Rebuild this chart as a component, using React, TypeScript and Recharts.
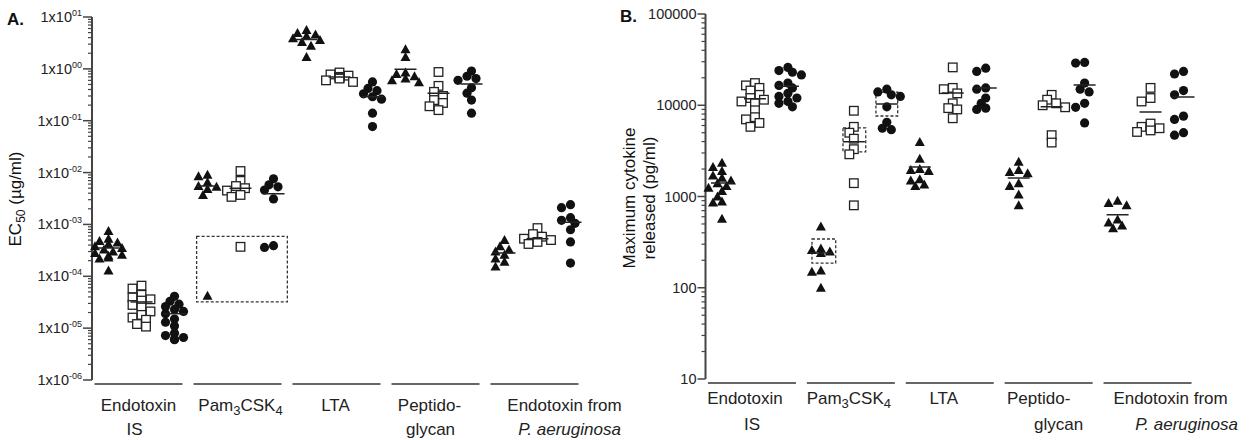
import React from "react"
import { ScatterChart, Scatter, XAxis, YAxis, ReferenceArea } from "recharts"

// group order on both panels; each group has 3 columns: triangle, open square, filled circle
const groupLabels = [["Endotoxin", "IS"], ["Pam3CSK4"], ["LTA"], ["Peptido-", "glycan"], ["Endotoxin from", "P. aeruginosa"]]

// A. EC50 (µg/ml)
const ec50Triangles = [
  [7.5e-4, 5.3e-4, 4.8e-4, 4.5e-4, 4.2e-4, 3.8e-4, 3.5e-4, 3.3e-4, 3.0e-4, 2.8e-4, 2.6e-4, 2.5e-4, 2.3e-4, 2.2e-4, 1.3e-4],
  [9.1e-3, 8.5e-3, 6.5e-3, 5.5e-3, 5.3e-3, 4.8e-3, 3.7e-3, 4.2e-5],
  [5.6, 4.9, 4.6, 4.3, 3.9, 3.6, 3.3, 2.8, 1.7],
  [2.4, 1.7, 0.85, 0.8, 0.72, 0.65, 0.6, 0.55],
  [5.0e-4, 3.8e-4, 3.3e-4, 3.0e-4, 2.6e-4, 2.2e-4, 1.9e-4, 1.55e-4],
]
const ec50Squares = [
  [6.6e-5, 5.8e-5, 4.4e-5, 3.9e-5, 3.6e-5, 3.4e-5, 2.8e-5, 2.5e-5, 2.1e-5, 1.8e-5, 1.6e-5, 1.45e-5, 1.2e-5, 1.07e-5],
  [1.07e-2, 6.9e-3, 5.5e-3, 5.0e-3, 4.5e-3, 3.7e-3, 3.4e-3, 3.7e-4],
  [0.85, 0.78, 0.74, 0.7, 0.68, 0.65, 0.6, 0.56],
  [0.87, 0.47, 0.36, 0.3, 0.25, 0.22, 0.19, 0.16],
  [8.5e-4, 6.5e-4, 5.8e-4, 5.3e-4, 5.0e-4, 4.6e-4, 4.2e-4],
]
const ec50Circles = [
  [4.1e-5, 3.3e-5, 2.9e-5, 2.6e-5, 2.3e-5, 2.1e-5, 1.9e-5, 1.5e-5, 1.3e-5, 1.1e-5, 8e-6, 7.2e-6, 6.6e-6, 6.2e-6, 6.0e-6],
  [7.6e-3, 5.8e-3, 5.3e-3, 4.6e-3, 3.1e-3, 3.9e-4, 3.6e-4],
  [0.56, 0.42, 0.38, 0.33, 0.29, 0.26, 0.14, 0.077],
  [0.91, 0.72, 0.65, 0.6, 0.43, 0.34, 0.25, 0.14],
  [2.4e-3, 2.1e-3, 1.35e-3, 1.2e-3, 1.05e-3, 7.9e-4, 4.6e-4, 1.8e-4],
]
const ec50Means = [
  [3.5e-4, 5.5e-3, 3.7, 0.98, 2.8e-4],
  [3.2e-5, 5.0e-3, 0.7, 0.34, 5.3e-4],
  [1.9e-5, 3.9e-3, 0.29, 0.51, 1.1e-3],
]
const ec50Ticks = [1e-6, 1e-5, 1e-4, 1e-3, 1e-2, 1e-1, 1, 10]
const ec50Boxes = [{ x1: 2.67, x2: 5.42, y1: 3.2e-5, y2: 5.9e-4 }]

// B. Maximum cytokine released (pg/ml)
const cytoTriangles = [
  [2350, 2100, 1900, 1700, 1600, 1500, 1400, 1300, 1250, 1150, 1000, 880, 860, 570],
  [470, 270, 260, 250, 240, 155, 150, 100],
  [3950, 2600, 2000, 1950, 1900, 1550, 1500, 1350, 1300],
  [2400, 1950, 1850, 1800, 1400, 1300, 1050, 800],
  [900, 850, 800, 560, 520, 480, 450],
]
const cytoSquares = [
  [17500, 16500, 15500, 14500, 13000, 12000, 11500, 11000, 10500, 8800, 7400, 7000, 6400, 5800],
  [8700, 5800, 5000, 4300, 3300, 2900, 1400, 800],
  [26000, 15500, 15000, 13500, 10500, 9300, 9000, 7200],
  [13000, 11500, 10500, 10000, 9500, 4700, 3900],
  [15500, 12000, 11000, 6300, 5800, 5600, 5300, 5100],
]
const cytoCircles = [
  [26000, 24000, 23000, 21500, 17500, 16500, 15500, 13500, 12500, 12000, 11000, 10500, 9600],
  [15000, 14000, 13000, 12500, 9600, 6500, 5600, 5400],
  [25500, 23500, 15500, 15000, 12000, 10500, 9300, 9000],
  [29500, 29000, 17500, 15000, 14000, 10500, 9500, 6400],
  [23500, 22000, 14500, 13000, 7600, 7000, 5000, 4700],
]
const cytoMeans = [
  [1410, 240, 2100, 1590, 630],
  [11800, 3980, 13600, 9600, 8460],
  [16200, 10300, 15500, 16700, 12300],
]
const cytoTicks = [10, 100, 1000, 10000, 100000]
const cytoBoxes = [
  { x1: 2.73, x2: 3.45, y1: 186, y2: 342 },
  { x1: 3.67, x2: 4.36, y1: 3090, y2: 5640 },
  { x1: 4.67, x2: 5.33, y1: 7620, y2: 13960 },
]

const FONT = "'Liberation Sans', Arial, Helvetica, sans-serif"
const AXIS = "#444"
const COL_PX = 33

// simple beeswarm so overlapping values spread sideways
function swarm(vals: number[], pxPerDecade: number) {
  const placed: { x: number; y: number }[] = []
  return vals.map((v) => {
    const y = Math.log10(v) * pxPerDecade
    for (const c of [0, -1, 1, -2, 2, -3, 3]) {
      const x = c * 4.5
      if (placed.every((p) => Math.hypot(p.x - x, p.y - y) >= 6.5)) {
        placed.push({ x, y })
        return x / COL_PX
      }
    }
    placed.push({ x: 0, y })
    return 0
  })
}

function buildPoints(sets: number[][], col: number, pxPerDecade: number) {
  return sets.flatMap((vals, g) => {
    const offs = swarm(vals, pxPerDecade)
    return vals.map((v, i) => ({ x: g * 3 + col + offs[i], y: v }))
  })
}

function buildMeans(means: number[][]) {
  return means.flatMap((row, col) => row.map((v, g) => ({ x: g * 3 + col, y: v })))
}

function minorTicks(lo: number, hi: number) {
  const out: number[] = []
  for (let d = Math.round(Math.log10(lo)); d < Math.round(Math.log10(hi)); d++) {
    for (let m = 2; m <= 9; m++) out.push(m * Math.pow(10, d))
  }
  return out
}

const isPow10 = (v: number) => Math.abs(Math.log10(v) - Math.round(Math.log10(v))) < 1e-6

const Triangle = (p: any) => (
  <polygon points={`${p.cx},${p.cy - 5} ${p.cx - 5},${p.cy + 4} ${p.cx + 5},${p.cy + 4}`} fill="#111" />
)
const Square = (p: any) => (
  <rect x={p.cx - 4.3} y={p.cy - 4.3} width={8.6} height={8.6} fill="#fff" stroke="#222" strokeWidth={1.3} />
)
const Dot = (p: any) => <circle cx={p.cx} cy={p.cy} r={4.6} fill="#111" />
const MeanLine = (p: any) => (
  <line x1={p.cx - 11} x2={p.cx + 11} y1={p.cy} y2={p.cy} stroke="#222" strokeWidth={1.5} />
)

function GroupLabel(props: any) {
  const { x, y, index, dy, shifts } = props
  const lines = groupLabels[index]
  return (
    <g fontFamily={FONT} fontSize={17} fill="#222">
      <line x1={x - 47} x2={x + 41} y1={y + dy[0]} y2={y + dy[0]} stroke="#666" strokeWidth={2} />
      {lines.map((t: string, i: number) => {
        const tx = x + shifts[index][i]
        const ty = y + dy[i + 1]
        if (t === "Pam3CSK4") {
          return (
            <text key={i} x={tx} y={ty} textAnchor="middle">
              Pam<tspan dy={4} fontSize={13}>3</tspan>
              <tspan dy={-4}>CSK</tspan>
              <tspan dy={4} fontSize={13}>4</tspan>
            </text>
          )
        }
        return (
          <text key={i} x={tx} y={ty} textAnchor="middle" fontStyle={t.startsWith("P. ") ? "italic" : "normal"}>
            {t}
          </text>
        )
      })}
    </g>
  )
}

function Panel(props: {
  width: number
  yAxisWidth: number
  top: number
  right: number
  xAxisHeight: number
  domain: [number, number]
  majors: number[]
  pxPerDecade: number
  tri: number[][]
  sq: number[][]
  circ: number[][]
  means: number[][]
  boxes: { x1: number; x2: number; y1: number; y2: number }[]
  tickLabel: (v: number, x: number, y: number) => React.ReactNode
  majorLen: number
  labelDy: number[]
  labelShifts: number[][]
}) {
  const ticks = [...props.majors, ...minorTicks(props.domain[0], props.domain[1])].sort((a, b) => a - b)
  const yTick = (t: any) => {
    const { x, y, payload } = t
    const v = payload.value
    if (!isPow10(v)) return <line x1={x - 4} x2={x} y1={y} y2={y} stroke={AXIS} strokeWidth={1.2} />
    return (
      <g>
        <line x1={x - props.majorLen} x2={x} y1={y} y2={y} stroke={AXIS} strokeWidth={1.5} />
        {props.tickLabel(v, x - props.majorLen - 1, y)}
      </g>
    )
  }
  return (
    <ScatterChart
      width={props.width}
      height={440}
      margin={{ top: props.top, right: props.right, bottom: 0, left: 0 }}
      style={{ overflow: "visible" }}
    >
      <XAxis
        type="number"
        dataKey="x"
        domain={[-0.5, 14.5]}
        ticks={[1, 4, 7, 10, 13]}
        interval={0}
        axisLine={false}
        tickLine={false}
        tickSize={0}
        tickMargin={0}
        height={props.xAxisHeight}
        tick={(t: any) => <GroupLabel {...t} dy={props.labelDy} shifts={props.labelShifts} />}
      />
      <YAxis
        type="number"
        dataKey="y"
        scale="log"
        domain={props.domain}
        allowDataOverflow
        ticks={ticks}
        interval={0}
        width={props.yAxisWidth}
        axisLine={{ stroke: AXIS, strokeWidth: 2 }}
        tickLine={false}
        tickSize={0}
        tickMargin={0}
        tick={yTick}
      />
      {props.boxes.map((b, i) => (
        <ReferenceArea
          key={i}
          x1={b.x1}
          x2={b.x2}
          y1={b.y1}
          y2={b.y2}
          fill="none"
          fillOpacity={0}
          stroke="#333"
          strokeWidth={1.3}
          strokeDasharray="3 2"
        />
      ))}
      <Scatter data={buildPoints(props.tri, 0, props.pxPerDecade)} shape={Triangle} isAnimationActive={false} />
      <Scatter data={buildPoints(props.sq, 1, props.pxPerDecade)} shape={Square} isAnimationActive={false} />
      <Scatter data={buildPoints(props.circ, 2, props.pxPerDecade)} shape={Dot} isAnimationActive={false} />
      <Scatter data={buildMeans(props.means)} shape={MeanLine} isAnimationActive={false} />
    </ScatterChart>
  )
}

const expLabel = (v: number, x: number, y: number) => {
  const e = Math.round(Math.log10(v))
  const s = e >= 0 ? "0" + e : "-0" + -e
  return (
    <text x={x} y={y + 5} textAnchor="end" fontFamily={FONT} fontSize={14.5} fill="#222">
      1x10<tspan dy={-6} fontSize={9}>{s}</tspan>
    </text>
  )
}

const plainLabel = (v: number, x: number, y: number) => (
  <text x={x} y={y + 5} textAnchor="end" fontFamily={FONT} fontSize={14.5} fill="#222">
    {String(v)}
  </text>
)

export default function App() {
  return (
    <div style={{ position: "absolute", left: 0, top: 0, width: 1250, height: 440, background: "#fff" }}>
      <div style={{ position: "absolute", left: 0, top: 0 }}>
        <Panel
          width={625}
          yAxisWidth={92}
          top={17}
          right={38}
          xAxisHeight={60}
          domain={[1e-6, 10]}
          majors={ec50Ticks}
          pxPerDecade={51.9}
          tri={ec50Triangles}
          sq={ec50Squares}
          circ={ec50Circles}
          means={ec50Means}
          boxes={ec50Boxes}
          tickLabel={expLabel}
          majorLen={9}
          labelDy={[4, 31, 55]}
          labelShifts={[[-3, -7], [0], [-4], [-9, -8], [27, 32]]}
        />
      </div>
      <div style={{ position: "absolute", left: 620, top: 0 }}>
        <Panel
          width={630}
          yAxisWidth={85.5}
          top={14}
          right={50}
          xAxisHeight={61}
          domain={[10, 100000]}
          majors={cytoTicks}
          pxPerDecade={91.25}
          tri={cytoTriangles}
          sq={cytoSquares}
          circ={cytoCircles}
          means={cytoMeans}
          boxes={cytoBoxes}
          tickLabel={plainLabel}
          majorLen={8}
          labelDy={[4, 25, 51]}
          labelShifts={[[-10, -3], [-5], [-9], [-13, 7], [20, 36]]}
        />
      </div>
      <svg width={1250} height={440} style={{ position: "absolute", left: 0, top: 0, pointerEvents: "none" }}>
        <g fontFamily={FONT} fill="#111">
          <text x={7} y={25} fontSize={17} fontWeight="bold">A.</text>
          <text x={620} y={22} fontSize={17} fontWeight="bold">B.</text>
          <text x={21} y={199} fontSize={17} textAnchor="middle" transform="rotate(-90 21 199)">
            EC<tspan dy={4} fontSize={12}>50</tspan>
            <tspan dy={-4}> (µg/ml)</tspan>
          </text>
          <text x={635} y={198} fontSize={17} textAnchor="middle" transform="rotate(-90 635 198)">
            Maximum cytokine
          </text>
          <text x={655} y={198} fontSize={17} textAnchor="middle" transform="rotate(-90 655 198)">
            released (pg/ml)
          </text>
        </g>
      </svg>
    </div>
  )
}
